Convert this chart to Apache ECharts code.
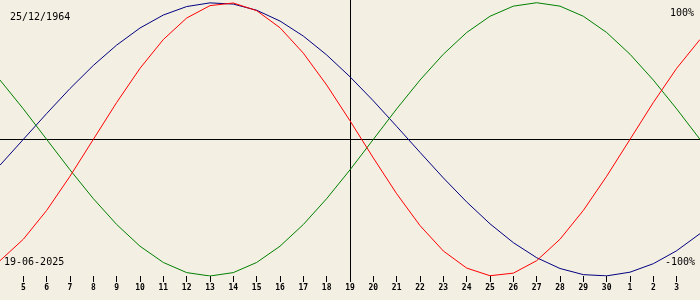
<!DOCTYPE html>
<html>
<head>
<meta charset="utf-8">
<script src="https://cdn.jsdelivr.net/npm/echarts@6/dist/echarts.min.js"></script>
<style>
html,body{margin:0;padding:0;background:#f3efe3;}
#chart{width:700px;height:300px;}
</style>
</head>
<body>
<div id="chart"></div>
<script>
// Days shown: 4 June -> 4 July (edge days not labelled)
const days = ['4','5','6','7','8','9','10','11','12','13','14','15','16','17','18','19','20','21','22','23','24','25','26','27','28','29','30','1','2','3','4'];
const today = '19';
const birthLabel = '25/12/1964';
const dateLabel = '19-06-2025';
const topLabel = '100%';
const bottomLabel = '-100%';

// Biorhythm values in percent, read per day
const physical = [-88.8,-73.1,-52.0,-27.0,0,27.0,52.0,73.1,88.8,97.9,99.8,94.2,81.7,63.1,39.8,13.6,-13.6,-39.8,-63.1,-81.7,-94.2,-99.8,-97.9,-88.8,-73.1,-52.0,-27.0,0,27.0,52.0,73.1];
const emotional = [43.4,22.3,0,-22.3,-43.4,-62.3,-78.2,-90.1,-97.5,-100,-97.5,-90.1,-78.2,-62.3,-43.4,-22.3,0,22.3,43.4,62.3,78.2,90.1,97.5,100,97.5,90.1,78.2,62.3,43.4,22.3,0];
const intellectual = [-18.9,0,18.9,37.2,54.1,69.0,81.5,91.0,97.2,99.9,99.0,94.5,86.6,75.6,61.8,45.8,28.2,9.5,-9.5,-28.2,-45.8,-61.8,-75.6,-86.6,-94.5,-99.0,-99.9,-97.2,-91.0,-81.5,-69.0];

const chart = echarts.init(document.getElementById('chart'));
const mono = '"DejaVu Sans Mono", monospace';
const showTick = (i) => i > 0 && i < days.length - 1;

function line(name, data, color, withMarks) {
  const s = {
    name, type: 'line', data, showSymbol: false, smooth: false,
    lineStyle: { color, width: 1 }, itemStyle: { color },
    emphasis: { disabled: true }, silent: true, z: 3
  };
  if (withMarks) {
    s.markLine = {
      silent: true, symbol: 'none', label: { show: false },
      lineStyle: { color: '#000', width: 1, type: 'solid' },
      data: [{ yAxis: 0 }, { xAxis: today }],
      z: 2
    };
  }
  return s;
}

chart.setOption({
  animation: false,
  backgroundColor: '#f3efe3',
  grid: { left: 0, right: 0, top: 0, bottom: 24 },
  xAxis: {
    type: 'category', data: days, boundaryGap: false, position: 'bottom',
    axisLine: { show: false, onZero: false },
    axisTick: { show: true, length: 6, interval: showTick, lineStyle: { color: '#000', width: 1 } },
    axisLabel: { interval: showTick, margin: 8, color: '#000', fontSize: 8, fontWeight: 'bold', fontFamily: mono },
    splitLine: { show: false }
  },
  yAxis: { type: 'value', min: -100, max: 102, show: false, splitLine: { show: false } },
  series: [
    line('Intellectual', intellectual, '#000080', true),
    line('Emotional', emotional, '#008000', false),
    line('Physical', physical, '#ff0000', false)
  ],
  graphic: [
    { type: 'text', x: 10, y: 17, style: { text: birthLabel, font: '10px ' + mono, fill: '#000', align: 'left', verticalAlign: 'middle' } },
    { type: 'text', x: 694, y: 13, style: { text: topLabel, font: '10px ' + mono, fill: '#000', align: 'right', verticalAlign: 'middle' } },
    { type: 'text', x: 4, y: 262, style: { text: dateLabel, font: '10px ' + mono, fill: '#000', align: 'left', verticalAlign: 'middle' } },
    { type: 'text', x: 695, y: 262, style: { text: bottomLabel, font: '10px ' + mono, fill: '#000', align: 'right', verticalAlign: 'middle' } }
  ]
});
</script>
</body>
</html>
